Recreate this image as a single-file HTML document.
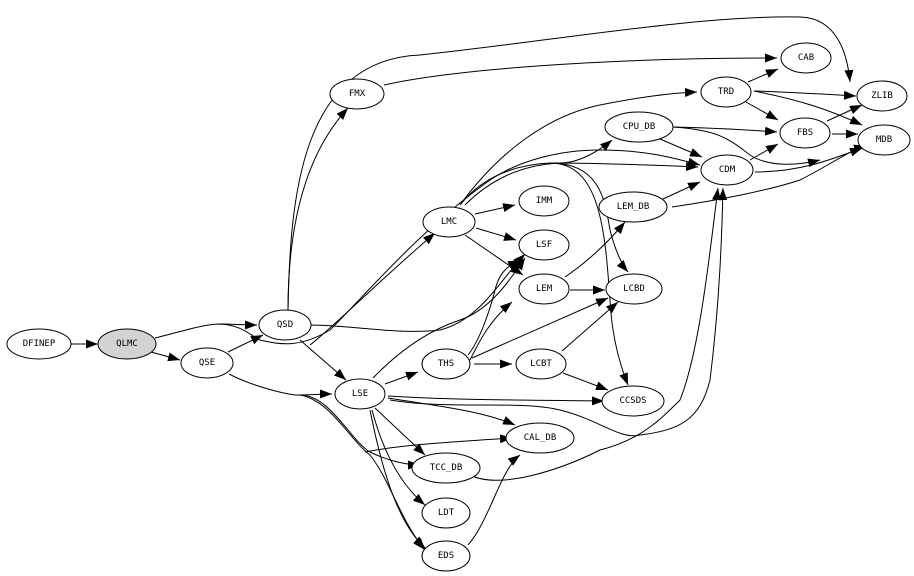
<!DOCTYPE html>
<html><head><meta charset="utf-8"><style>
html,body{margin:0;padding:0;background:#fff;}
svg{display:block}
text{font-family:"DejaVu Sans Mono","Liberation Mono",monospace;font-size:9px;text-anchor:middle;dominant-baseline:central}
</style></head><body>
<svg width="914" height="576" viewBox="0 0 914 576" xmlns="http://www.w3.org/2000/svg">
<defs><marker id="a" markerWidth="12" markerHeight="9" refX="12" refY="4.5" orient="auto" markerUnits="userSpaceOnUse"><path d="M0,0L12,4.5L0,9z" fill="#000"/></marker></defs>
<g fill="none" stroke="#000" stroke-width="1" marker-end="url(#a)">
<path d="M71,344L98,344"/>
<path d="M155,338C180,332 200,325 218,324C235,324 245,325 257,325"/>
<path d="M151,352L180,360"/>
<path d="M228,352L263,335"/>
<path d="M229,374C250,385 280,393 295,395C310,395 320,394 332,394"/>
<path d="M288,310C288,240 300,160 348,108"/>
<path d="M384,85C450,70 600,58 777,58"/>
<path d="M288,310C290,200 300,60 420,55C560,40 700,15 800,17C840,18 848,60 850,82"/>
<path d="M300,340L346,380"/>
<path d="M218,324C240,324 250,335 260,340C280,345 300,348 330,330C370,290 420,230 490,180C520,160 560,150 600,150C650,150 680,160 700,165"/>
<path d="M310,345C330,330 380,280 435,233"/>
<path d="M310,325C350,325 400,335 440,330C480,320 500,280 525,254"/>
<path d="M475,214L515,205"/>
<path d="M476,228L516,240"/>
<path d="M465,235L523,275"/>
<path d="M460,205C500,150 550,115 600,105C640,97 670,93 697,92"/>
<path d="M465,205C490,180 520,165 560,163C580,163 600,150 612,140"/>
<path d="M460,205C480,180 510,165 550,163C600,163 650,165 698,167"/>
<path d="M550,163C600,163 605,200 610,230C615,250 622,265 628,272"/>
<path d="M550,163C600,163 605,230 610,300C612,340 622,370 628,385"/>
<path d="M385,384L418,372"/>
<path d="M373,378C400,350 430,330 460,320C490,310 510,280 525,258"/>
<path d="M388,396C450,400 520,400 604,401"/>
<path d="M388,398C430,405 480,410 515,425"/>
<path d="M375,408L425,455"/>
<path d="M372,410C380,440 395,480 425,505"/>
<path d="M370,410C380,460 395,520 425,548"/>
<path d="M390,400C450,410 520,400 560,410C600,420 620,440 640,435C680,430 700,420 710,380C720,300 722,230 723,188"/>
<path d="M470,360C480,340 490,320 512,302"/>
<path d="M468,355C480,340 490,310 495,290C500,270 510,265 520,260"/>
<path d="M474,364L512,364"/>
<path d="M472,358L608,298"/>
<path d="M570,290L605,290"/>
<path d="M565,277C590,260 610,240 625,222"/>
<path d="M562,351L618,302"/>
<path d="M563,373L608,390"/>
<path d="M663,199L700,182"/>
<path d="M672,207C720,200 770,190 800,180C830,165 850,150 866,146"/>
<path d="M660,139L702,157"/>
<path d="M673,127C720,128 750,130 777,132"/>
<path d="M673,127C720,130 730,140 750,155C770,168 800,165 820,160"/>
<path d="M750,160L778,144"/>
<path d="M755,172C800,172 830,160 862,148"/>
<path d="M748,82L778,69"/>
<path d="M746,102L778,120"/>
<path d="M754,91C790,92 820,94 856,96"/>
<path d="M754,91C800,100 830,110 862,125"/>
<path d="M832,134L858,134"/>
<path d="M827,121L862,105"/>
<path d="M468,545C490,520 500,470 520,455"/>
<path d="M470,475C500,490 560,470 600,450C640,440 660,420 680,400C700,350 710,250 718,188"/>
<path d="M365,452C400,445 450,442 512,438"/>
<path d="M300,395C330,395 350,440 370,452C390,462 410,465 420,465"/>
<path d="M300,395C330,400 350,440 370,455C390,480 400,520 425,550"/>
</g>
<g fill="#fff" stroke="#000" stroke-width="1">
<ellipse cx="39" cy="344" rx="32" ry="15"/>
<ellipse cx="127" cy="344" rx="29" ry="15" fill="#d3d3d3"/>
<ellipse cx="207" cy="363" rx="26" ry="15"/>
<ellipse cx="285" cy="325" rx="26" ry="15"/>
<ellipse cx="357" cy="94" rx="27" ry="15"/>
<ellipse cx="449" cy="222" rx="26" ry="15"/>
<ellipse cx="544" cy="201" rx="25" ry="15"/>
<ellipse cx="544" cy="245" rx="25" ry="15"/>
<ellipse cx="544" cy="289" rx="25" ry="15"/>
<ellipse cx="634" cy="289" rx="28" ry="15"/>
<ellipse cx="446" cy="364" rx="24" ry="15"/>
<ellipse cx="541" cy="364" rx="25" ry="15"/>
<ellipse cx="360" cy="394" rx="25" ry="15"/>
<ellipse cx="633" cy="401" rx="31" ry="15"/>
<ellipse cx="540" cy="438" rx="34" ry="15"/>
<ellipse cx="446" cy="468" rx="34" ry="15"/>
<ellipse cx="446" cy="513" rx="24" ry="15"/>
<ellipse cx="446" cy="556" rx="24" ry="15"/>
<ellipse cx="633" cy="207" rx="34" ry="15"/>
<ellipse cx="639" cy="127" rx="34" ry="15"/>
<ellipse cx="727" cy="170" rx="26" ry="15"/>
<ellipse cx="726" cy="92" rx="25" ry="15"/>
<ellipse cx="806" cy="58" rx="25" ry="15"/>
<ellipse cx="805" cy="133" rx="25" ry="15"/>
<ellipse cx="882" cy="96" rx="25" ry="15"/>
<ellipse cx="884" cy="140" rx="26" ry="15"/>
</g>
<g>
<text x="39" y="344">DFINEP</text><text x="127" y="344">QLMC</text><text x="207" y="363">QSE</text>
<text x="285" y="325">QSD</text><text x="357" y="94">FMX</text><text x="449" y="222">LMC</text>
<text x="544" y="201">IMM</text><text x="544" y="245">LSF</text><text x="544" y="289">LEM</text>
<text x="634" y="289">LCBD</text><text x="446" y="364">THS</text><text x="541" y="364">LCBT</text>
<text x="360" y="394">LSE</text><text x="633" y="401">CCSDS</text><text x="540" y="438">CAL_DB</text>
<text x="446" y="468">TCC_DB</text><text x="446" y="513">LDT</text><text x="446" y="556">EDS</text>
<text x="633" y="207">LEM_DB</text><text x="639" y="127">CPU_DB</text><text x="727" y="170">CDM</text>
<text x="726" y="92">TRD</text><text x="806" y="58">CAB</text><text x="805" y="133">FBS</text>
<text x="882" y="96">ZLIB</text><text x="884" y="140">MDB</text>
</g>
</svg>
</body></html>
